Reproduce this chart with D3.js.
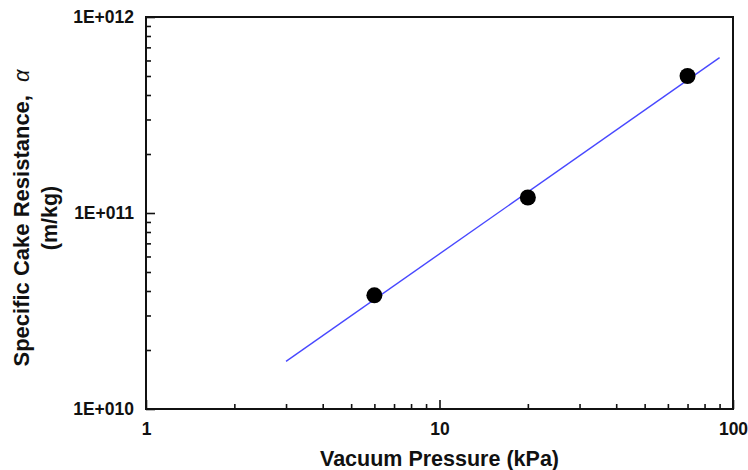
<!DOCTYPE html>
<html>
<head>
<meta charset="utf-8">
<script src="https://cdn.jsdelivr.net/npm/d3@7"></script>
<style>
  html, body { margin: 0; padding: 0; background: #fff; }
  svg { display: block; }
  text { font-family: "Liberation Sans", Arial, sans-serif; font-weight: bold; fill: #111; }
</style>
</head>
<body>
<svg id="chart" width="748" height="470"></svg>
<script>
// Measured data points
const pressure = [6, 20, 70];                 // kPa
const alpha = [3.8e10, 1.2e11, 5.0e11];       // m/kg
// Fitted power-law line endpoints
const fitPressure = [3, 90];
const fitAlpha = [1.75e10, 6.2e11];
// Tick values and labels
const xMajorTicks = [1, 10, 100];
const xTickLabels = ["1", "10", "100"];
const xMinorTicks = [2,3,4,5,6,7,8,9,20,30,40,50,60,70,80,90];
const yMajorTicks = [1e10, 1e11, 1e12];
const yTickLabels = ["1E+010", "1E+011", "1E+012"];
const yMinorTicks = [2e10,3e10,4e10,5e10,6e10,7e10,8e10,9e10,2e11,3e11,4e11,5e11,6e11,7e11,8e11,9e11];

const svg = d3.select("#chart");
const L = 146, R = 733, T = 17, B = 409;

const x = d3.scaleLog().domain([1, 100]).range([L, R]);
const y = d3.scaleLog().domain([1e10, 1e12]).range([B, T]);

// Minor ticks
svg.append("g").attr("transform", `translate(0,${B})`)
  .call(d3.axisBottom(x).tickValues(xMinorTicks).tickSizeInner(-5).tickSizeOuter(0).tickFormat(""))
  .call(g => g.select(".domain").remove())
  .call(g => g.selectAll("line").attr("stroke", "#111").attr("stroke-width", 1.6));
svg.append("g").attr("transform", `translate(${L},0)`)
  .call(d3.axisLeft(y).tickValues(yMinorTicks).tickSizeInner(-5).tickSizeOuter(0).tickFormat(""))
  .call(g => g.select(".domain").remove())
  .call(g => g.selectAll("line").attr("stroke", "#111").attr("stroke-width", 1.6));

// Major ticks + labels
svg.append("g").attr("transform", `translate(0,${B})`)
  .call(d3.axisBottom(x).tickValues(xMajorTicks).tickSizeInner(-9).tickSizeOuter(0).tickPadding(14)
        .tickFormat((d, i) => xTickLabels[i]))
  .call(g => g.select(".domain").remove())
  .call(g => g.selectAll("line").attr("stroke", "#111").attr("stroke-width", 1.6))
  .call(g => g.selectAll("text").attr("font-size", 17.5).attr("font-family", null).attr("fill", "#111"));
svg.append("g").attr("transform", `translate(${L},0)`)
  .call(d3.axisLeft(y).tickValues(yMajorTicks).tickSizeInner(-9).tickSizeOuter(0).tickPadding(12)
        .tickFormat((d, i) => yTickLabels[i]))
  .call(g => g.select(".domain").remove())
  .call(g => g.selectAll("line").attr("stroke", "#111").attr("stroke-width", 1.6))
  .call(g => g.selectAll("text").attr("font-size", 17.5).attr("font-family", null).attr("fill", "#111"));

// Frame
svg.append("rect").attr("x", L).attr("y", T).attr("width", R - L).attr("height", B - T)
  .attr("fill", "none").attr("stroke", "#111").attr("stroke-width", 2);

// Fit line
svg.append("path")
  .datum(fitPressure.map((p, i) => [p, fitAlpha[i]]))
  .attr("d", d3.line().x(d => x(d[0])).y(d => y(d[1])))
  .attr("fill", "none").attr("stroke", "#4848ff").attr("stroke-width", 1.4);

// Points
svg.append("g").selectAll("circle")
  .data(pressure.map((p, i) => [p, alpha[i]]))
  .join("circle")
  .attr("cx", d => x(d[0])).attr("cy", d => y(d[1])).attr("r", 8).attr("fill", "#000");

// Axis titles
svg.append("text").attr("x", (L + R) / 2).attr("y", 465.5).attr("text-anchor", "middle")
  .attr("font-size", 21.5).text("Vacuum Pressure (kPa)");

const yt = svg.append("text").attr("transform", `translate(29,${(T + B) / 2 + 5}) rotate(-90)`)
  .attr("text-anchor", "middle").attr("font-size", 22);
yt.append("tspan").text("Specific Cake Resistance,");
yt.append("tspan").attr("dx", 13).attr("font-style", "italic").attr("font-weight", "normal").text("α");
svg.append("text").attr("transform", `translate(57,${(T + B) / 2 + 5}) rotate(-90)`)
  .attr("text-anchor", "middle").attr("font-size", 21.5).text("(m/kg)");
</script>
</body>
</html>
